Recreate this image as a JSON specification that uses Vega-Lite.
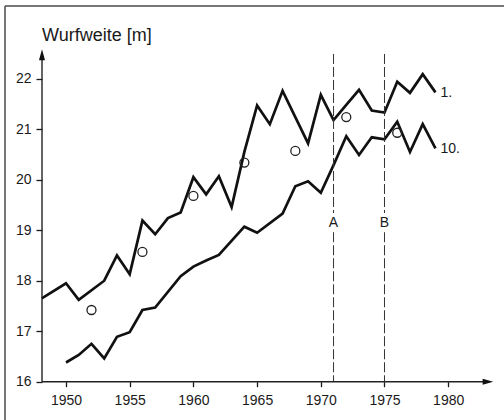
{
  "$schema": "https://vega.github.io/schema/vega-lite/v6.json",
  "width": 499,
  "height": 414,
  "autosize": {"type": "none"},
  "padding": {"left": 5, "top": 6, "right": 0, "bottom": 0},
  "background": "white",
  "config": {
    "view": {"stroke": null},
    "font": "Liberation Sans",
    "axis": {"grid": false, "domain": false, "labelFont": "Liberation Sans", "labelFontSize": 14, "labelColor": "#1a1a1a", "tickColor": "#1a1a1a", "tickWidth": 1.3, "title": null}
  },
  "datasets": {
    "lines": [
      {"series": "1.", "year": 1948.1, "value": 17.65},
      {"series": "1.", "year": 1950, "value": 17.95},
      {"series": "1.", "year": 1951, "value": 17.62},
      {"series": "1.", "year": 1953, "value": 18.0},
      {"series": "1.", "year": 1954, "value": 18.5},
      {"series": "1.", "year": 1955, "value": 18.13},
      {"series": "1.", "year": 1956, "value": 19.19},
      {"series": "1.", "year": 1957, "value": 18.92},
      {"series": "1.", "year": 1958, "value": 19.24},
      {"series": "1.", "year": 1959, "value": 19.35},
      {"series": "1.", "year": 1960, "value": 20.05},
      {"series": "1.", "year": 1961, "value": 19.71},
      {"series": "1.", "year": 1962, "value": 20.07},
      {"series": "1.", "year": 1963, "value": 19.46},
      {"series": "1.", "year": 1964, "value": 20.55},
      {"series": "1.", "year": 1965, "value": 21.47},
      {"series": "1.", "year": 1966, "value": 21.1},
      {"series": "1.", "year": 1967, "value": 21.76},
      {"series": "1.", "year": 1969, "value": 20.72},
      {"series": "1.", "year": 1970, "value": 21.68},
      {"series": "1.", "year": 1971, "value": 21.18},
      {"series": "1.", "year": 1972, "value": 21.48},
      {"series": "1.", "year": 1973, "value": 21.78},
      {"series": "1.", "year": 1974, "value": 21.37},
      {"series": "1.", "year": 1975, "value": 21.33},
      {"series": "1.", "year": 1976, "value": 21.94},
      {"series": "1.", "year": 1977, "value": 21.72},
      {"series": "1.", "year": 1978, "value": 22.09},
      {"series": "1.", "year": 1979, "value": 21.73},
      {"series": "10.", "year": 1950, "value": 16.38},
      {"series": "10.", "year": 1951, "value": 16.53},
      {"series": "10.", "year": 1952, "value": 16.75},
      {"series": "10.", "year": 1953, "value": 16.46},
      {"series": "10.", "year": 1954, "value": 16.89},
      {"series": "10.", "year": 1955, "value": 16.98},
      {"series": "10.", "year": 1956, "value": 17.42},
      {"series": "10.", "year": 1957, "value": 17.47},
      {"series": "10.", "year": 1959, "value": 18.09},
      {"series": "10.", "year": 1960, "value": 18.28},
      {"series": "10.", "year": 1961, "value": 18.4},
      {"series": "10.", "year": 1962, "value": 18.51},
      {"series": "10.", "year": 1964, "value": 19.07},
      {"series": "10.", "year": 1965, "value": 18.95},
      {"series": "10.", "year": 1967, "value": 19.33},
      {"series": "10.", "year": 1968, "value": 19.87},
      {"series": "10.", "year": 1969, "value": 19.97},
      {"series": "10.", "year": 1970, "value": 19.74},
      {"series": "10.", "year": 1971, "value": 20.29},
      {"series": "10.", "year": 1972, "value": 20.86},
      {"series": "10.", "year": 1973, "value": 20.49},
      {"series": "10.", "year": 1974, "value": 20.84},
      {"series": "10.", "year": 1975, "value": 20.8},
      {"series": "10.", "year": 1976, "value": 21.15},
      {"series": "10.", "year": 1977, "value": 20.55},
      {"series": "10.", "year": 1978, "value": 21.1},
      {"series": "10.", "year": 1979, "value": 20.62}
    ],
    "olympics": [
      {"year": 1952, "value": 17.42},
      {"year": 1956, "value": 18.57},
      {"year": 1960, "value": 19.68},
      {"year": 1964, "value": 20.34},
      {"year": 1968, "value": 20.57},
      {"year": 1972, "value": 21.24},
      {"year": 1976, "value": 20.93}
    ],
    "events": [
      {"year": 1971, "label": "A"},
      {"year": 1975, "label": "B"}
    ]
  },
  "data": {"values": [{}]},
  "layer": [
    {
      "mark": {"type": "rule", "color": "#4a4a4a", "strokeWidth": 1.5},
      "encoding": {
        "x": {"datum": 1945.212, "type": "quantitative", "scale": {"domain": [1945.212, 1984.38], "nice": false, "zero": false}},
        "y": {"datum": 15.242, "type": "quantitative", "scale": {"domain": [15.242, 23.44], "nice": false, "zero": false}},
        "y2": {"datum": 23.44}
      }
    },
    {
      "mark": {"type": "rule", "color": "#4a4a4a", "strokeWidth": 1.5},
      "encoding": {
        "x": {"datum": 1945.212, "type": "quantitative", "scale": {"domain": [1945.212, 1984.38], "nice": false, "zero": false}},
        "x2": {"datum": 1984.38},
        "y": {"datum": 23.44, "type": "quantitative", "scale": {"domain": [15.242, 23.44], "nice": false, "zero": false}}
      }
    },
    {
      "data": {"name": "lines"},
      "mark": {"type": "line", "color": "#111111", "strokeWidth": 2.7, "strokeJoin": "miter", "strokeCap": "butt"},
      "encoding": {
        "x": {"field": "year", "type": "quantitative", "scale": {"domain": [1945.212, 1984.38], "nice": false, "zero": false},
          "axis": {"values": [1950, 1955, 1960, 1965, 1970, 1975, 1980], "format": "d", "offset": -38.3, "tickSize": 5, "labelPadding": 7}},
        "y": {"field": "value", "type": "quantitative", "scale": {"domain": [15.242, 23.44], "nice": false, "zero": false},
          "axis": {"values": [16, 17, 18, 19, 20, 21, 22], "format": "d", "offset": -37, "tickSize": 6, "labelPadding": 5}},
        "detail": {"field": "series"}
      }
    },
    {
      "data": {"name": "lines"},
      "transform": [{"filter": "datum.year == 1979"}],
      "mark": {"type": "text", "align": "left", "baseline": "middle", "dx": 5, "dy": 1, "fontSize": 14, "color": "#1a1a1a"},
      "encoding": {
        "x": {"field": "year", "type": "quantitative"},
        "y": {"field": "value", "type": "quantitative"},
        "text": {"field": "series"}
      }
    },
    {
      "data": {"name": "olympics"},
      "mark": {"type": "point", "shape": "circle", "filled": false, "size": 81, "stroke": "#222222", "strokeWidth": 1.3, "opacity": 1},
      "encoding": {
        "x": {"field": "year", "type": "quantitative"},
        "y": {"field": "value", "type": "quantitative"}
      }
    },
    {
      "data": {"name": "events"},
      "mark": {"type": "rule", "color": "#333333", "strokeWidth": 1, "strokeDash": [10, 3]},
      "encoding": {
        "x": {"field": "year", "type": "quantitative"},
        "y": {"datum": 22.49, "type": "quantitative"},
        "y2": {"datum": 19.34}
      }
    },
    {
      "data": {"name": "events"},
      "mark": {"type": "rule", "color": "#333333", "strokeWidth": 1, "strokeDash": [10, 3]},
      "encoding": {
        "x": {"field": "year", "type": "quantitative"},
        "y": {"datum": 18.96, "type": "quantitative"},
        "y2": {"datum": 16}
      }
    },
    {
      "data": {"name": "events"},
      "mark": {"type": "text", "align": "center", "baseline": "middle", "fontSize": 14, "color": "#1a1a1a"},
      "encoding": {
        "x": {"field": "year", "type": "quantitative"},
        "y": {"datum": 19.14, "type": "quantitative"},
        "text": {"field": "label"}
      }
    },
    {
      "mark": {"type": "rule", "color": "#222222", "strokeWidth": 1.4},
      "encoding": {
        "x": {"datum": 1948.116, "type": "quantitative"},
        "x2": {"datum": 1982.9},
        "y": {"datum": 16, "type": "quantitative"}
      }
    },
    {
      "mark": {"type": "rule", "color": "#222222", "strokeWidth": 1.4},
      "encoding": {
        "x": {"datum": 1948.116, "type": "quantitative"},
        "y": {"datum": 16, "type": "quantitative"},
        "y2": {"datum": 22.4}
      }
    },
    {
      "mark": {"type": "point", "shape": "M0,-1L0.55,1L-0.55,1Z", "filled": true, "size": 121, "color": "#111111", "opacity": 1},
      "encoding": {
        "x": {"datum": 1948.116, "type": "quantitative"},
        "y": {"datum": 22.476, "type": "quantitative"}
      }
    },
    {
      "mark": {"type": "point", "shape": "M1,0L-1,-0.55L-1,0.55Z", "filled": true, "size": 112, "color": "#111111", "opacity": 1},
      "encoding": {
        "x": {"datum": 1983.12, "type": "quantitative"},
        "y": {"datum": 16, "type": "quantitative"}
      }
    },
    {
      "mark": {"type": "text", "align": "left", "baseline": "alphabetic", "fontSize": 18, "color": "#1a1a1a", "text": "Wurfweite [m]"},
      "encoding": {
        "x": {"datum": 1948.116, "type": "quantitative"},
        "y": {"datum": 22.746, "type": "quantitative"}
      }
    }
  ]
}
